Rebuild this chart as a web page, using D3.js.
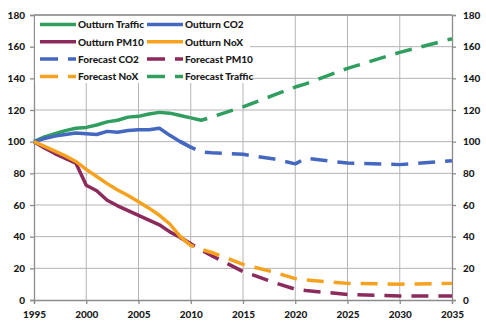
<!DOCTYPE html>
<html lang="en">

<head>
  <script src="https://d3js.org/d3.v7.min.js"></script>
  <style>
    body { margin: 0; background: #fff; }
    text { font-family: Lato, "Open Sans", sans-serif; font-weight: 900; fill: #1a1a1a; }
  </style>
</head>

<body>
  <svg width=486 height=329></svg>
  <script>
    // index, 1995 = 100
    var outturnYears = [1995, 1996, 1997, 1998, 1999, 2000, 2001, 2002, 2003, 2004, 2005, 2006, 2007, 2008, 2009, 2010];
    var outturnTraffic = [100, 103, 105, 107, 108.5, 109, 110.5, 112.5, 113.5, 115.5, 116, 117.5, 118.5, 118, 116.5, 115];
    var outturnCO2 = [100, 102, 103.5, 104.5, 105.5, 105, 104.5, 106.5, 106, 107, 107.5, 107.5, 108.5, 104, 100, 96.5];
    var outturnPM10 = [100, 96, 92.5, 89.5, 86.5, 72.5, 69, 63, 59.5, 56.5, 53.5, 50.5, 47.5, 43, 39.5, 35.5];
    var outturnNoX = [100, 97, 94, 91, 87.5, 82.5, 78, 73.5, 69.5, 66, 62, 58, 53.5, 48, 40, 34.5];

    var forecastYears = [2009, 2010, 2011, 2012, 2015, 2018, 2020, 2021, 2025, 2030, 2035];
    var forecastCO2 = [100, 96.5, 93.5, 93, 92, 89, 86, 89.5, 86.5, 85.5, 88];
    var forecastPM10 = [39.5, 35.5, 31.5, 28, 18, 11, 6.8, 6, 3.5, 2.5, 2.5];
    var forecastNoX = [40, 34.5, 32, 30, 22.5, 17.5, 13.5, 12.7, 10.5, 10, 10.5];
    var forecastTraffic = [null, 115, 113.5, 115.5, 122, 129.5, 134.5, 136.5, 146.3, 156.4, 165];

    var xTicks = [1995, 2000, 2005, 2010, 2015, 2020, 2025, 2030, 2035];
    var yTicks = [0, 20, 40, 60, 80, 100, 120, 140, 160, 180];

    var green = "#2f9e5f", blue = "#4468c0", purple = "#8c2a5c", orange = "#f7a21f";

    var series = [
      { name: "Outturn Traffic", years: outturnYears, values: outturnTraffic, color: green, dashed: false },
      { name: "Outturn CO2", years: outturnYears, values: outturnCO2, color: blue, dashed: false },
      { name: "Outturn PM10", years: outturnYears, values: outturnPM10, color: purple, dashed: false },
      { name: "Outturn NoX", years: outturnYears, values: outturnNoX, color: orange, dashed: false },
      { name: "Forecast CO2", years: forecastYears, values: forecastCO2, color: blue, dashed: true },
      { name: "Forecast PM10", years: forecastYears, values: forecastPM10, color: purple, dashed: true },
      { name: "Forecast NoX", years: forecastYears, values: forecastNoX, color: orange, dashed: true },
      { name: "Forecast Traffic", years: forecastYears, values: forecastTraffic, color: green, dashed: true }
    ];

    var svg = d3.select("svg");
    var plotL = 34, plotR = 452, plotT = 15, plotB = 300;

    var x = d3.scaleLinear().domain([1995, 2035]).range([plotL, plotR]);
    var y = d3.scaleLinear().domain([0, 180]).range([plotB, plotT]);

    // grid
    svg.append("g").selectAll("line").data(xTicks.slice(1, -1)).enter().append("line")
      .attr("x1", d => x(d)).attr("x2", d => x(d)).attr("y1", plotT).attr("y2", plotB)
      .attr("stroke", "#b4b4b4").attr("stroke-width", 1);
    svg.append("g").selectAll("line").data(yTicks.slice(1)).enter().append("line")
      .attr("x1", plotL).attr("x2", plotR).attr("y1", d => y(d)).attr("y2", d => y(d))
      .attr("stroke", "#b4b4b4").attr("stroke-width", 1);

    // axes
    function styleAxis(g) {
      g.select(".domain").attr("stroke", "#8c8c8c").attr("stroke-width", 1.3);
      g.selectAll(".tick line").attr("stroke", "#8c8c8c").attr("stroke-width", 1.3);
      g.selectAll(".tick text").attr("font-size", 10).attr("fill", "#1a1a1a");
    }
    svg.append("g").attr("transform", "translate(0," + plotB + ")")
      .call(d3.axisBottom(x).tickValues(xTicks).tickFormat(d3.format("d")).tickSizeOuter(0).tickSize(4).tickPadding(7))
      .call(styleAxis);
    svg.append("g").attr("transform", "translate(" + plotL + ",0)")
      .call(d3.axisLeft(y).tickValues(yTicks).tickSizeOuter(0).tickSize(4).tickPadding(5))
      .call(styleAxis);
    svg.append("g").attr("transform", "translate(" + plotR + ",0)")
      .call(d3.axisRight(y).tickValues(yTicks).tickSizeOuter(0).tickSize(4).tickPadding(7))
      .call(styleAxis);
    svg.append("line").attr("x1", plotL).attr("x2", plotR).attr("y1", plotT).attr("y2", plotT)
      .attr("stroke", "#8c8c8c").attr("stroke-width", 1.3);

    // legend box sits over the grid
    var legend = svg.append("g");
    legend.append("rect").attr("x", plotL + 1).attr("y", plotT + 1).attr("width", 215).attr("height", 67).attr("fill", "#fff");

    // series lines
    var line = d3.line()
      .defined(d => d[1] != null)
      .x(d => x(d[0])).y(d => y(d[1]));
    svg.append("g").selectAll("path").data(series).enter().append("path")
      .attr("d", s => line(s.years.map((yr, i) => [yr, s.values[i]])))
      .attr("fill", "none")
      .attr("stroke", s => s.color)
      .attr("stroke-width", 3.5)
      .attr("stroke-linejoin", "round")
      .attr("stroke-dasharray", s => s.dashed ? "17,10" : null);

    var items = legend.selectAll("g.item").data(series).enter().append("g")
      .attr("transform", (s, i) => "translate(" + (i % 2 == 0 ? 40 : 147) + "," + (24.5 + Math.floor(i / 2) * 17.3) + ")");
    items.append("line").attr("x1", 0).attr("x2", 36).attr("y1", 0).attr("y2", 0)
      .attr("stroke", s => s.color).attr("stroke-width", 3.5)
      .attr("stroke-dasharray", s => s.dashed ? "18,10" : null);
    items.append("text").attr("x", 38).attr("y", 3.8).attr("font-size", 10).text(s => s.name);
  </script>
</body>
</html>
